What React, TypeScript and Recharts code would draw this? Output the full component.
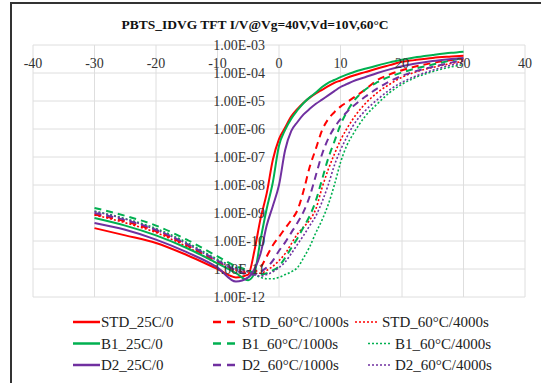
import { LineChart, Line, XAxis, YAxis, CartesianGrid } from "recharts"

const SERIF = "'Liberation Serif', 'Times New Roman', serif"

// gate voltage (V)
const vg = [-30, -25, -20, -15, -10, -7, -5, -4, -3, -2, -1, 0, 1, 2, 3, 4, 5, 6, 7, 8, 9, 10, 11, 12, 14, 16, 18, 20, 22, 25, 28, 30]

// log10(Id), one entry per vg
const std25 = [-9.54, -9.8, -10.07, -10.5, -11.0, -11.3, -11.2, -10.35, -9.2, -8.3, -7.1, -6.36, -5.95, -5.55, -5.28, -5.06, -4.88, -4.73, -4.6, -4.47, -4.35, -4.27, -4.18, -4.1, -3.97, -3.84, -3.72, -3.6, -3.54, -3.46, -3.41, -3.38]
const b125 = [-9.18, -9.45, -9.8, -10.25, -10.8, -11.15, -11.4, -11.15, -9.95, -8.85, -7.9, -6.6, -6.03, -5.63, -5.33, -5.07, -4.87, -4.7, -4.5, -4.35, -4.25, -4.15, -4.06, -3.98, -3.85, -3.73, -3.62, -3.53, -3.45, -3.36, -3.28, -3.24]
const d225 = [-9.36, -9.6, -9.95, -10.4, -10.95, -11.45, -11.3, -11.0, -10.45, -9.45, -8.75, -8.0, -6.75, -6.07, -5.75, -5.48, -5.28, -5.1, -4.95, -4.8, -4.65, -4.5, -4.4, -4.3, -4.15, -4.0, -3.87, -3.76, -3.67, -3.57, -3.5, -3.46]
const std1000 = [-9.05, -9.3, -9.65, -10.15, -10.75, -11.05, -11.15, -11.1, -10.95, -10.55, -10.15, -9.85, -9.55, -9.25, -8.9, -8.2, -7.35, -6.7, -6.05, -5.65, -5.4, -5.2, -5.05, -4.9, -4.6, -4.25, -4.05, -3.9, -3.78, -3.64, -3.54, -3.49]
const b11000 = [-8.82, -9.1, -9.45, -9.95, -10.55, -10.9, -11.05, -11.15, -11.2, -11.15, -11.05, -10.9, -10.6, -10.25, -9.9, -9.5, -9.1, -8.55, -7.8, -7.05, -6.45, -5.85, -5.4, -5.05, -4.6, -4.33, -4.13, -3.98, -3.85, -3.7, -3.55, -3.46]
const d21000 = [-9.0, -9.25, -9.6, -10.1, -10.7, -11.05, -11.2, -11.2, -11.1, -10.95, -10.7, -10.35, -10.05, -9.7, -9.35, -8.95, -8.4, -7.65, -6.9, -6.35, -5.95, -5.65, -5.4, -5.2, -4.85, -4.55, -4.3, -4.1, -3.95, -3.78, -3.63, -3.55]
const std4000 = [-9.07, -9.35, -9.7, -10.2, -10.8, -11.05, -11.1, -11.15, -11.15, -11.05, -10.9, -10.7, -10.45, -10.1, -9.75, -9.5, -9.25, -8.85, -8.1, -7.45, -6.9, -6.4, -6.0, -5.65, -5.1, -4.7, -4.4, -4.15, -3.98, -3.8, -3.66, -3.58]
const b14000 = [-8.93, -9.2, -9.55, -10.05, -10.65, -10.95, -11.1, -11.2, -11.3, -11.35, -11.35, -11.3, -11.2, -11.1, -10.95, -10.6, -10.2, -9.7, -9.25, -8.7, -8.0, -7.2, -6.6, -6.2, -5.55, -5.1, -4.7, -4.4, -4.18, -3.95, -3.78, -3.7]
const d24000 = [-8.95, -9.22, -9.6, -10.1, -10.7, -11.0, -11.1, -11.2, -11.25, -11.2, -11.1, -10.95, -10.75, -10.45, -10.12, -9.8, -9.45, -9.1, -8.6, -8.0, -7.3, -6.75, -6.3, -5.9, -5.35, -4.95, -4.6, -4.33, -4.13, -3.9, -3.72, -3.64]

const xTicks = [-40, -30, -20, -10, 0, 10, 20, 30, 40]
const yTicks = [-12, -11, -10, -9, -8, -7, -6, -5, -4, -3]

const RED = "#ff0000"
const GREEN = "#00b050"
const PURPLE = "#7030a0"
const SOLID = ""
const DASH = "7 5"
const DOT = "2 2"

const series = [
  { key: "std25", name: "STD_25C/0", values: std25, color: RED, dash: SOLID },
  { key: "std1000", name: "STD_60°C/1000s", values: std1000, color: RED, dash: DASH },
  { key: "std4000", name: "STD_60°C/4000s", values: std4000, color: RED, dash: DOT },
  { key: "b125", name: "B1_25C/0", values: b125, color: GREEN, dash: SOLID },
  { key: "b11000", name: "B1_60°C/1000s", values: b11000, color: GREEN, dash: DASH },
  { key: "b14000", name: "B1_60°C/4000s", values: b14000, color: GREEN, dash: DOT },
  { key: "d225", name: "D2_25C/0", values: d225, color: PURPLE, dash: SOLID },
  { key: "d21000", name: "D2_60°C/1000s", values: d21000, color: PURPLE, dash: DASH },
  { key: "d24000", name: "D2_60°C/4000s", values: d24000, color: PURPLE, dash: DOT },
]

const rows = vg.map((v, i) => {
  const row: Record<string, number> = { vg: v }
  series.forEach((s) => (row[s.key] = s.values[i]))
  return row
})

const W = 541
const H = 383
// axes take 1px each, so the plot box is 33..525 x 45..297
const M = { top: 44, left: 32, right: 16, bottom: 86 }
const PLOT_TOP = M.top + 1
const ZERO_X = M.left + 1 + (W - M.left - 1 - M.right) / 2

const fmtE = (v: number) => `1.00E-${String(Math.abs(v)).padStart(2, "0")}`

const xTick = (p: any) => (
  <text x={p.x} y={PLOT_TOP + 23} textAnchor="middle" fontSize={14} fill="#333" fontFamily={SERIF}>
    {p.payload.value}
  </text>
)

const yTick = (p: any) => (
  <text x={ZERO_X - 14} y={p.y + 5} textAnchor="end" fontSize={14} fill="#333" fontFamily={SERIF}>
    {fmtE(p.payload.value)}
  </text>
)

// legend grid: 3 rows (STD, B1, D2) x 3 columns (25C, 1000s, 4000s)
const legendRowsY = [322, 343.5, 365]
const legendCols = [
  { x1: 73, x2: 100, tx: 101 },
  { x1: 213, x2: 236, tx: 242 },
  { x1: 368, x2: 392, tx: 395 },
]

function LegendBox() {
  return (
    <svg width={W} height={H} style={{ position: "absolute", left: 0, top: 0 }}>
      <text x={255} y={29} textAnchor="middle" fontSize={13.5} fontWeight="bold" fill="#111" fontFamily={SERIF}>
        PBTS_IDVG TFT I/V@Vg=40V,Vd=10V,60°C
      </text>
      {series.map((s, i) => {
        const row = Math.floor(i / 3)
        const col = legendCols[i % 3]
        const shift = i === 2 ? -13 : 0
        const y = legendRowsY[row]
        return (
          <g key={s.key}>
            <line
              x1={col.x1 + shift}
              x2={col.x2 + shift}
              y1={y}
              y2={y}
              stroke={s.color}
              strokeWidth={s.dash === DOT ? 1.5 : 2.5}
              strokeDasharray={s.dash === DASH ? "8 6" : s.dash || undefined}
            />
            <text x={col.tx + shift} y={y + 5} fontSize={15} fill="#222" fontFamily={SERIF}>
              {s.name}
            </text>
          </g>
        )
      })}
    </svg>
  )
}

export default function App() {
  return (
    <div style={{ position: "absolute", left: 0, top: 0, width: W, height: H, overflow: "hidden", background: "#fff" }}>
      <div style={{ position: "absolute", left: 10, top: 2, width: 700, height: 700, border: "2px solid #333" }} />
      <div style={{ position: "absolute", left: 0, top: 0 }}>
        <LineChart width={W} height={H} data={rows} margin={M}>
          <CartesianGrid stroke="#dedede" />
          <XAxis
            type="number"
            dataKey="vg"
            domain={[-40, 40]}
            ticks={xTicks}
            interval={0}
            orientation="top"
            height={1}
            axisLine={false}
            tickLine={false}
            tick={xTick}
          />
          <YAxis
            type="number"
            domain={[-12, -3]}
            ticks={yTicks}
            interval={0}
            width={1}
            axisLine={false}
            tickLine={false}
            tick={yTick}
          />
          {series.map((s) => (
            <Line
              key={s.key}
              dataKey={s.key}
              name={s.name}
              type="monotone"
              stroke={s.color}
              strokeWidth={s.dash === DOT ? 1.6 : 2}
              strokeDasharray={s.dash || undefined}
              dot={false}
              isAnimationActive={false}
            />
          ))}
        </LineChart>
      </div>
      <LegendBox />
    </div>
  )
}
